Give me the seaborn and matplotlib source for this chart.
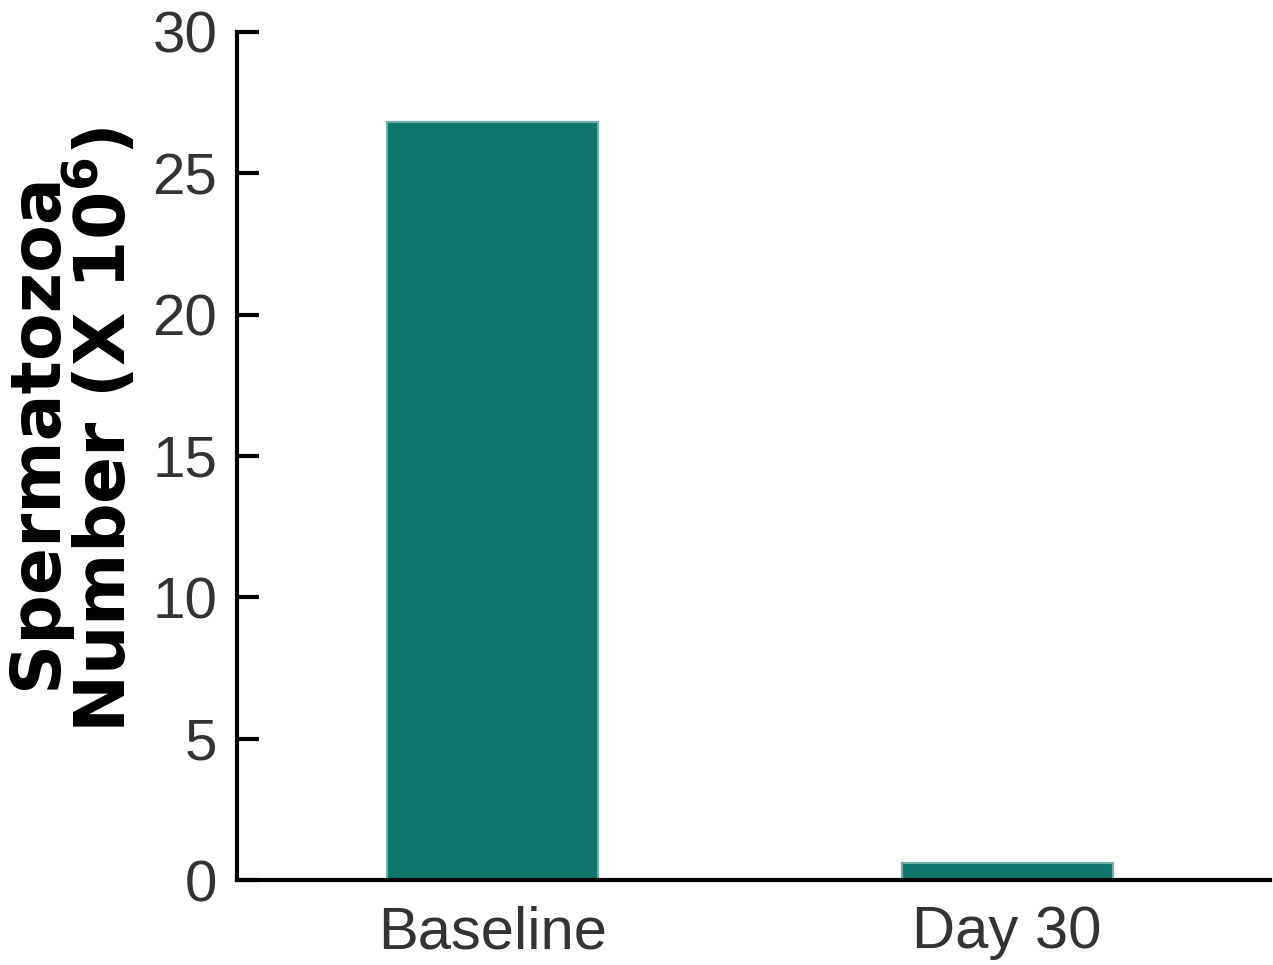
import matplotlib
matplotlib.use("Agg")
import matplotlib.pyplot as plt
import seaborn as sns
import pandas as pd

categories = ["Baseline", "Day 30"]
values = [26.8, 0.6]
yticks = [0, 5, 10, 15, 20, 25, 30]

sns.set_theme(style="white")
plt.rcParams['font.family'] = ['Liberation Sans', 'DejaVu Sans']

df = pd.DataFrame({"cat": categories, "val": values})

fig = plt.figure(figsize=(12.73, 9.65), dpi=100)
ax = fig.add_axes([0.186, 0.088, 0.812, 0.879])
sns.barplot(data=df, x="cat", y="val", color="#10756b", saturation=1, width=0.41,
            edgecolor="#6fb0a8", linewidth=1.5, ax=ax)

ax.set_ylim(0, 30)
ax.set_xlim(-0.498, 1.512)
ax.set_yticks(yticks)
ax.set_yticklabels([str(t) for t in yticks])
ax.tick_params(axis="y", direction="in", length=16, width=3, color="black",
               labelsize=42, labelcolor="#333333", pad=14, left=True)
ax.tick_params(axis="x", length=0, labelsize=43, labelcolor="#333333", pad=18)
ax.set_xlabel("")
ax.set_ylabel("Spermatozoa\nNumber (X 10$^{\\mathbf{6}}$)", fontsize=50, fontweight="bold",
              family=["DejaVu Sans"], color="black", linespacing=0.9)
ax.yaxis.set_label_coords(-0.094, 0.53)

for s in ["top", "right"]:
    ax.spines[s].set_visible(False)
for s in ["left", "bottom"]:
    ax.spines[s].set_linewidth(3)
    ax.spines[s].set_color("black")

fig.savefig("out.png", dpi=100, facecolor="white")
